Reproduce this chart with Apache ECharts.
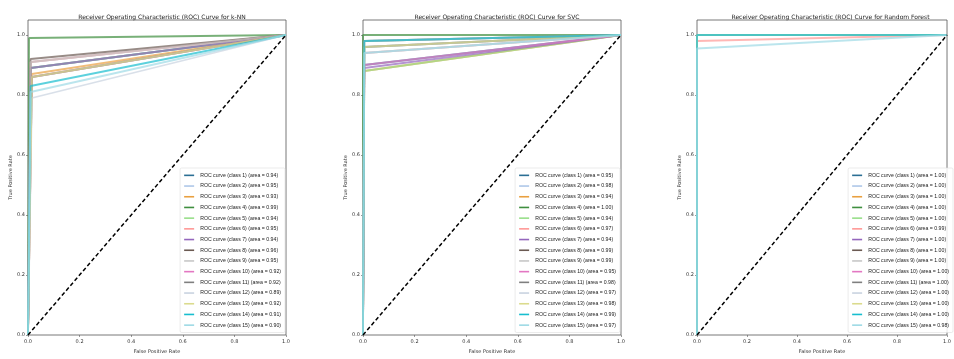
<!DOCTYPE html>
<html>
<head>
<meta charset="utf-8">
<script src="https://cdn.jsdelivr.net/npm/echarts@6/dist/echarts.min.js"></script>
<style>
  html, body { margin: 0; padding: 0; background: #fff; }
  #chart { width: 954px; height: 359px; }
</style>
</head>
<body>
<div id="chart"></div>
<script>
// per class values
const classes = [1, 2, 3, 4, 5, 6, 7, 8, 9, 10, 11, 12, 13, 14, 15]
const models = ['k-NN', 'SVC', 'Random Forest']

const areasKnn = ['0.94', '0.95', '0.93', '0.99', '0.94', '0.95', '0.94', '0.96', '0.95', '0.92', '0.92', '0.89', '0.92', '0.91', '0.90']
const fprKnn = [0.01, 0.01, 0.015, 0.004, 0.01, 0.01, 0.01, 0.01, 0.01, 0.015, 0.015, 0.015, 0.015, 0.01, 0.01]
const tprKnn = [0.89, 0.91, 0.87, 0.99, 0.89, 0.91, 0.89, 0.92, 0.91, 0.86, 0.86, 0.79, 0.86, 0.83, 0.81]

const areasSvc = ['0.95', '0.98', '0.94', '1.00', '0.94', '0.97', '0.94', '0.99', '0.99', '0.95', '0.98', '0.97', '0.98', '0.99', '0.97']
const fprSvc = [0.005, 0.005, 0.005, 0.0, 0.005, 0.005, 0.005, 0.005, 0.005, 0.005, 0.005, 0.005, 0.005, 0.005, 0.005]
const tprSvc = [0.90, 0.96, 0.88, 1.00, 0.88, 0.94, 0.89, 0.98, 0.98, 0.90, 0.96, 0.94, 0.96, 0.98, 0.94]

const areasRf = ['1.00', '1.00', '1.00', '1.00', '1.00', '0.99', '1.00', '1.00', '1.00', '1.00', '1.00', '1.00', '1.00', '1.00', '0.98']
const fprRf = [0, 0, 0, 0, 0, 0, 0, 0, 0, 0, 0, 0, 0, 0, 0]
const tprRf = [1, 1, 1, 1, 1, 0.98, 1, 1, 1, 1, 1, 1, 1, 1, 0.955]

const colors = ['#2b6f94', '#aec7e8', '#e9a040', '#3f8f3f', '#98df8a', '#ff9896', '#9467bd', '#6b5a52',
  '#c7c7c7', '#e377c2', '#7f7f7f', '#c9d3e0', '#dbdb8d', '#17becf', '#9edae5']

const results = [
  { areas: areasKnn, fpr: fprKnn, tpr: tprKnn },
  { areas: areasSvc, fpr: fprSvc, tpr: tprSvc },
  { areas: areasRf, fpr: fprRf, tpr: tprRf }
]

// grid boxes in px
const grids = [
  { left: 28, width: 258 },
  { left: 363, width: 258 },
  { left: 697, width: 257 }
]

const chart = echarts.init(document.getElementById('chart'), null, { renderer: 'canvas' })

const option = {
  animation: false,
  title: [],
  grid: [],
  xAxis: [],
  yAxis: [],
  legend: [],
  series: []
}

const axisFont = { fontSize: 5, color: '#333', fontFamily: 'DejaVu Sans' }

models.forEach((model, m) => {
  const g = grids[m]
  option.title.push({
    text: 'Receiver Operating Characteristic (ROC) Curve for ' + model,
    left: g.left + g.width / 2,
    top: 9,
    textAlign: 'center',
    textStyle: { fontSize: 6, fontWeight: 'normal', color: '#222', fontFamily: 'DejaVu Sans' }
  })
  option.grid.push({
    left: g.left,
    width: g.width,
    top: 20,
    height: 315,
    show: true,
    borderColor: '#555',
    borderWidth: 0.8,
    backgroundColor: '#fff'
  })
  option.xAxis.push({
    type: 'value',
    gridIndex: m,
    min: 0,
    max: 1,
    interval: 0.2,
    name: 'False Positive Rate',
    nameLocation: 'middle',
    nameGap: 13,
    nameTextStyle: axisFont,
    axisLine: { show: false },
    axisTick: { show: true, length: 2, lineStyle: { color: '#555', width: 0.6 } },
    axisLabel: Object.assign({ margin: 4, formatter: v => v.toFixed(1) }, axisFont),
    splitLine: { show: false }
  })
  option.yAxis.push({
    type: 'value',
    gridIndex: m,
    min: 0,
    max: 1.05,
    interval: 0.2,
    name: 'True Positive Rate',
    nameLocation: 'middle',
    nameGap: 15,
    nameTextStyle: axisFont,
    axisLine: { show: false },
    axisTick: { show: true, length: 2, lineStyle: { color: '#555', width: 0.6 } },
    axisLabel: Object.assign({ margin: 3, showMaxLabel: false, formatter: v => v.toFixed(1) }, axisFont),
    splitLine: { show: false }
  })

  const r = results[m]
  const names = []
  classes.forEach((c, i) => {
    const name = 'ROC curve (class ' + c + ') (area = ' + r.areas[i] + ')'
    names.push(name)
    option.series.push({
      name: name,
      type: 'line',
      xAxisIndex: m,
      yAxisIndex: m,
      symbol: 'none',
      silent: true,
      color: colors[i],
      lineStyle: { width: 1.8, color: colors[i], opacity: 0.7 },
      data: [[0, 0], [r.fpr[i], r.tpr[i]], [1, 1]]
    })
  })
  // chance line
  option.series.push({
    name: 'chance' + m,
    type: 'line',
    xAxisIndex: m,
    yAxisIndex: m,
    symbol: 'none',
    silent: true,
    lineStyle: { width: 1.5, color: '#000', type: [4, 2.5] },
    data: [[0, 0], [1, 1]]
  })

  option.legend.push({
    data: names,
    orient: 'vertical',
    right: 954 - (g.left + g.width) + 1,
    top: 168,
    padding: [2, 4, 2, 4],
    itemGap: 0,
    itemWidth: 10,
    itemHeight: 1.6,
    icon: 'rect',
    backgroundColor: 'rgba(255,255,255,0.85)',
    borderColor: '#ddd',
    borderWidth: 0.6,
    borderRadius: 1.5,
    selectedMode: false,
    textStyle: { fontSize: 5.2, color: '#222', lineHeight: 10.7, padding: [0, 0, 0, 1], fontFamily: 'Liberation Sans' }
  })
})

chart.setOption(option)
</script>
</body>
</html>
